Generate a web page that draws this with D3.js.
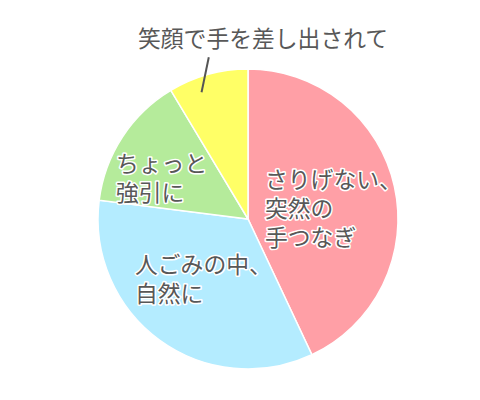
<!DOCTYPE html>
<html>
<head>
<meta charset="utf-8">
<script src="https://cdn.jsdelivr.net/npm/d3@7"></script>
<style>
  body { margin: 0; background: #fff; }
</style>
</head>
<body>
<div id="pie_chart"></div>
<script>
// Data
var categories = ['さりげない、突然の手つなぎ', '人ごみの中、自然に', 'ちょっと強引に', '笑顔で手を差し出されて'];
var values = [43, 34, 14.4, 8.6];
// label lines (split by line)
var labelLines = [['さりげない、', '突然の', '手つなぎ'], ['人ごみの中、', '自然に'], ['ちょっと', '強引に'], ['笑顔で手を差し出されて']];
var color_palette = ['#ff9fa6', '#b4ecff', '#b5eb9b', '#ffff66'];

var width = 480, height = 400;
var cx = 248, cy = 219, radius = 150;

var svg = d3.select('#pie_chart').append('svg')
  .attr('width', width)
  .attr('height', height)
  .attr('viewBox', `0 0 ${width} ${height}`)
  .attr('font-family', '"Noto Sans CJK JP", "Noto Sans", sans-serif')
  .attr('font-size', '22.8px');

var pie = d3.pie().sort(null).value(d => d);
var arcs = pie(values);
var arc = d3.arc().innerRadius(0).outerRadius(radius);

var g = svg.append('g').attr('transform', `translate(${cx},${cy})`);

g.selectAll('path')
  .data(arcs)
  .join('path')
  .attr('d', arc)
  .attr('fill', (d, i) => color_palette[i])
  .attr('stroke', '#fff')
  .attr('stroke-width', 1.5);

// point at a fraction through a slice, at a radius
function polar(d, frac, r) {
  var a = d.startAngle + (d.endAngle - d.startAngle) * frac;
  return [r * Math.sin(a), -r * Math.cos(a)];
}

// leader line for the small slice
var small = arcs[3];
var p0 = polar(small, 0.35, radius * 0.9);
var p1 = polar(small, 0.56, radius * 1.11);
g.append('line')
  .attr('x1', p0[0]).attr('y1', p0[1])
  .attr('x2', p1[0]).attr('y2', p1[1])
  .attr('stroke', '#555')
  .attr('stroke-width', 2);

// label anchors (offset from center)
var labelPos = [[17, -41], [-113, 44], [-132, -57], [-110, -182]];
var lineGap = 29;

labelLines.forEach((lines, i) => {
  var t = g.append('text')
    .attr('x', labelPos[i][0])
    .attr('y', labelPos[i][1])
    .attr('fill', '#585858')
    .attr('stroke', '#fff')
    .attr('stroke-width', 3)
    .attr('stroke-linejoin', 'round')
    .attr('paint-order', 'stroke')
    .attr('dominant-baseline', 'central');
  lines.forEach((s, j) => {
    t.append('tspan')
      .attr('x', labelPos[i][0])
      .attr('dy', j === 0 ? 0 : lineGap)
      .text(s);
  });
});
</script>
</body>
</html>
